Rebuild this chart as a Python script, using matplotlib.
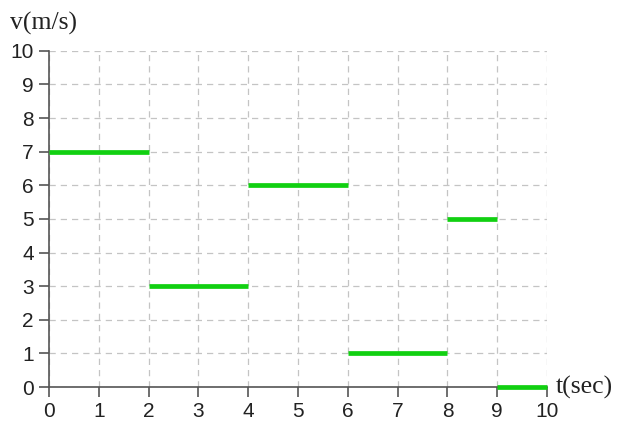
import matplotlib.pyplot as plt
import numpy as np

# piecewise-constant velocity
t_start = [0, 2, 4, 6, 8, 9]
t_end = [2, 4, 6, 8, 9, 10]
velocity = [7, 3, 6, 1, 5, 0]
ticks = list(range(0, 11))

fig = plt.figure(figsize=(6.18, 4.25), dpi=100)
ax = fig.add_axes([0.0793, 0.0894, 0.806, 0.791])

ax.hlines(velocity, t_start, t_end, colors='#11d011', linewidth=3.4,
          zorder=5, clip_on=False)

ax.set_xlim(0, 10)
ax.set_ylim(0, 10)
ax.set_xticks(ticks)
ax.set_yticks(ticks)
ax.grid(True, linestyle=(0, (5, 4)), color='#c4c4c4', linewidth=0.9)
for s in ['top', 'right']:
    ax.spines[s].set_visible(False)
for s in ['left', 'bottom']:
    ax.spines[s].set_color('#555555')
    ax.spines[s].set_linewidth(1.2)
ax.tick_params(direction='out', length=7, width=1.2, color='#555555',
               labelsize=15, pad=4, labelcolor='#222222')
for lab in ax.get_xticklabels() + ax.get_yticklabels():
    lab.set_family('Liberation Sans')

fig.text(0.016, 0.93, 'v(m/s)', family='Liberation Serif', fontsize=18.5, color='#222222')
fig.text(0.9, 0.075, 't(sec)', family='Liberation Serif', fontsize=18.5, color='#222222')

fig.savefig('out.png', dpi=100)
